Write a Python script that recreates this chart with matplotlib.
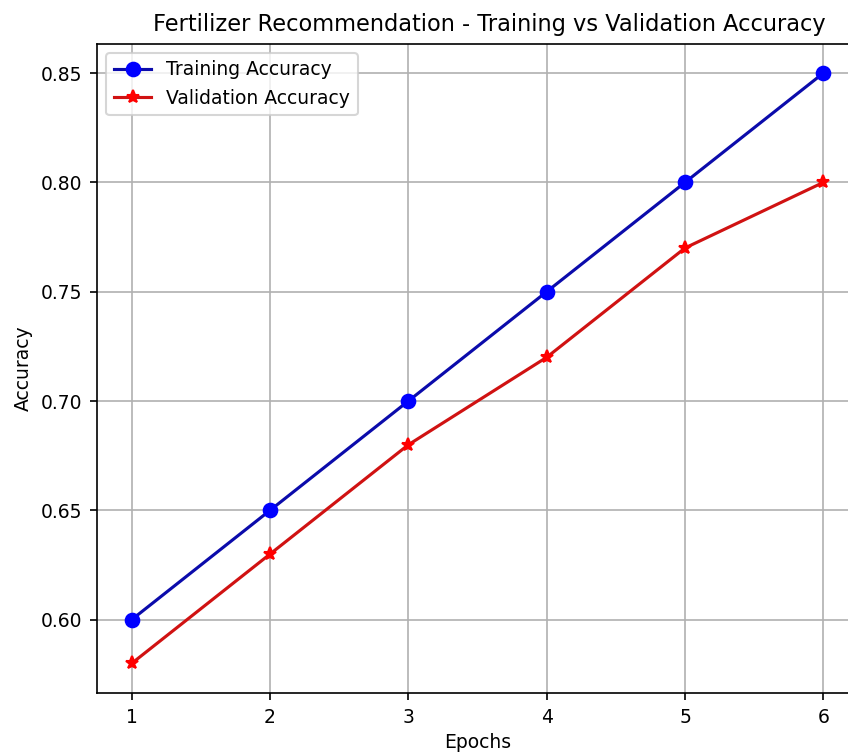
import matplotlib.pyplot as plt

epochs = [1, 2, 3, 4, 5, 6]
train_acc = [0.60, 0.65, 0.70, 0.75, 0.80, 0.85]
val_acc = [0.58, 0.63, 0.68, 0.72, 0.77, 0.80]

plt.rcParams['font.size'] = 9

W, H = 848, 754
fig = plt.figure(figsize=(W / 150, H / 150), dpi=150)
# axes run past the right edge, like the cropped original
ax = fig.add_axes([97 / W, (H - 693) / H, (858 - 97) / W, (693 - 43.5) / H])

ax.plot(epochs, train_acc, '-o', color='#0b0bab', mfc='blue', mec='blue',
        label='Training Accuracy', markersize=6.5)
ax.plot(epochs, val_acc, '-*', color='#d01212', mfc='red', mec='red',
        label='Validation Accuracy', markersize=6.5)

ax.set_title('Fertilizer Recommendation - Training vs Validation Accuracy',
             fontsize=10.8, x=0.515)
ax.set_xlabel('Epochs', labelpad=3)
ax.set_ylabel('Accuracy')
ax.legend(loc='upper left')
ax.grid(True)

fig.savefig('out.png', dpi=150)
